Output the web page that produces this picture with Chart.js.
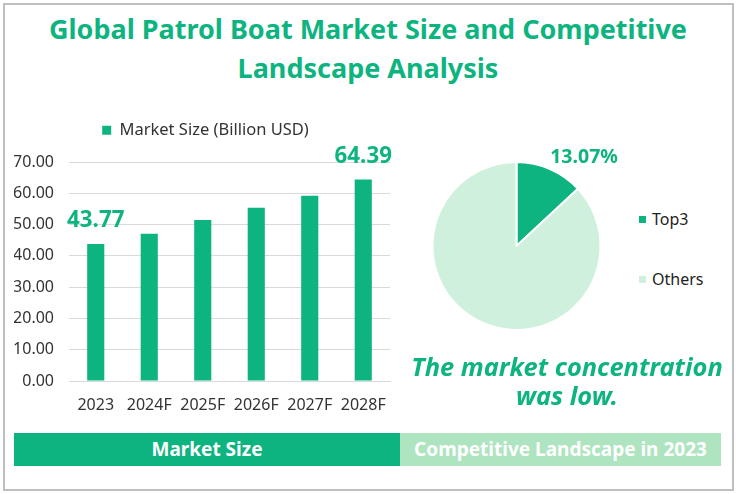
<!DOCTYPE html>
<html>
<head>
<meta charset="utf-8">
<script src="https://cdn.jsdelivr.net/npm/chart.js@4"></script>
<style>
  html, body { margin: 0; padding: 0; background: #fff; }
  body { width: 736px; height: 494px; position: relative; overflow: hidden; font-family: "Noto Sans", sans-serif; }
  #frame { position: absolute; left: 3px; top: 3px; width: 727px; height: 484px; border: 2px solid #bfbfbf; }
  #titulo { position: absolute; left: 0; top: 9px; width: 736px; text-align: center; color: #0db47f; font-weight: 700; font-size: 27px; line-height: 39px; }
  canvas { position: absolute; }
  #barras { left: 14px; top: 99px; }
  #pizza { left: 400px; top: 130px; }
  #nota { position: absolute; left: 401px; top: 352px; width: 332px; text-align: center; color: #0db47f; font-weight: 700; font-style: italic; font-size: 25.4px; line-height: 29px; }
  .faixa { position: absolute; top: 433px; height: 33px; line-height: 33px; text-align: center; color: #fff; font-weight: 700; font-size: 19px; }
  #faixa1 { left: 14px; width: 386px; background: #0db47f; }
  #faixa2 { left: 400px; width: 321px; background: #aee4c0; }
  .item { position: absolute; left: 639px; height: 20px; line-height: 20px; font-size: 16px; color: #222; white-space: nowrap; }
  .item i { position: absolute; left: 0; top: 7px; width: 7px; height: 7px; }
  .item span { margin-left: 13px; }
</style>
</head>
<body>
<div id="frame"></div>
<div id="titulo">Global Patrol Boat Market Size and Competitive<br>Landscape Analysis</div>
<canvas id="barras" width="386" height="311"></canvas>
<canvas id="pizza" width="233" height="232"></canvas>
<div id="legenda"></div>
<div id="nota">The market concentration<br>was low.</div>
<div class="faixa" id="faixa1">Market Size</div>
<div class="faixa" id="faixa2">Competitive Landscape in 2023</div>
<script>
const anos = ["2023", "2024F", "2025F", "2026F", "2027F", "2028F"];
const mercado = [43.77, 47.1, 51.5, 55.4, 59.2, 64.39];
const rotulosBarra = [0, 5]; // only first and last bar get a label
const fatias = ["Top3", "Others"];
const participacao = [13.07, 86.93];

const verde = "#0db47f";
const verdeClaro = "#cff0dc";
const coresPizza = [verde, verdeClaro];
const fonte = "'Noto Sans', sans-serif";

// legend height is fixed so the plot starts where the reference does
const ajusteLegenda = {
  id: "ajusteLegenda",
  beforeInit(chart) {
    const fit = chart.legend.fit;
    chart.legend.fit = function () {
      fit.call(this);
      this.height = 63;
    };
  },
  afterLayout(chart) {
    chart.legend.left += 3.5;
    chart.legend.right += 3.5;
  }
};

const rotulosBarras = {
  id: "rotulosBarras",
  afterDatasetsDraw(chart) {
    const ctx = chart.ctx;
    const barras = chart.getDatasetMeta(0).data;
    ctx.save();
    ctx.fillStyle = verde;
    ctx.font = "700 22.3px " + fonte;
    ctx.textAlign = "center";
    ctx.textBaseline = "middle";
    rotulosBarra.forEach(i => {
      ctx.fillText(mercado[i].toFixed(2), barras[i].x, barras[i].y - 23);
    });
    ctx.restore();
  }
};

const rotuloPizza = {
  id: "rotuloPizza",
  afterDatasetsDraw(chart) {
    const ctx = chart.ctx;
    const arco = chart.getDatasetMeta(0).data[0];
    const meio = (arco.startAngle + arco.endAngle) / 2;
    ctx.save();
    ctx.fillStyle = verde;
    ctx.font = "700 19.5px " + fonte;
    ctx.textAlign = "center";
    ctx.textBaseline = "middle";
    ctx.fillText(participacao[0].toFixed(2) + "%",
      arco.x + Math.cos(meio) * arco.outerRadius + 34,
      arco.y + Math.sin(meio) * arco.outerRadius - 12);
    ctx.restore();
  }
};

new Chart(document.getElementById("barras"), {
  type: "bar",
  data: {
    labels: anos,
    datasets: [{
      label: "Market Size (Billion USD)",
      data: mercado,
      backgroundColor: verde,
      barPercentage: 0.32,
      categoryPercentage: 1
    }]
  },
  options: {
    responsive: false,
    animation: false,
    layout: { padding: { right: 10 } },
    plugins: {
      tooltip: { enabled: false },
      legend: {
        position: "top",
        labels: {
          boxWidth: 9, boxHeight: 9, padding: 23,
          color: "#333",
          font: { family: fonte, size: 16.5 }
        }
      }
    },
    scales: {
      x: {
        grid: { display: false },
        border: { color: "#d9d9d9" },
        afterFit: s => { s.height = 29; },
        ticks: { color: "#333", font: { family: fonte, size: 16 }, maxRotation: 0, autoSkip: false, padding: 7 }
      },
      y: {
        min: 0,
        max: 70,
        grid: { color: "#d9d9d9", drawTicks: false },
        border: { display: false },
        afterFit: s => { s.width = 55; },
        ticks: { stepSize: 10, color: "#333", padding: 15, font: { family: fonte, size: 16 }, callback: v => v.toFixed(2) }
      }
    }
  },
  plugins: [ajusteLegenda, rotulosBarras]
});

new Chart(document.getElementById("pizza"), {
  type: "pie",
  data: {
    labels: fatias,
    datasets: [{
      data: participacao,
      backgroundColor: coresPizza,
      borderColor: "#fff",
      borderWidth: 2
    }]
  },
  options: {
    responsive: false,
    animation: false,
    layout: { padding: { top: 31, bottom: 31 } },
    plugins: {
      tooltip: { enabled: false },
      legend: { display: false }
    }
  },
  plugins: [rotuloPizza]
});

const legenda = document.getElementById("legenda");
const topoLegenda = [209, 269];
fatias.forEach((nome, i) => {
  const item = document.createElement("div");
  item.className = "item";
  item.style.top = topoLegenda[i] + "px";
  item.innerHTML = `<i style="background:${coresPizza[i]}"></i><span>${nome}</span>`;
  legenda.appendChild(item);
});
</script>
</body>
</html>
